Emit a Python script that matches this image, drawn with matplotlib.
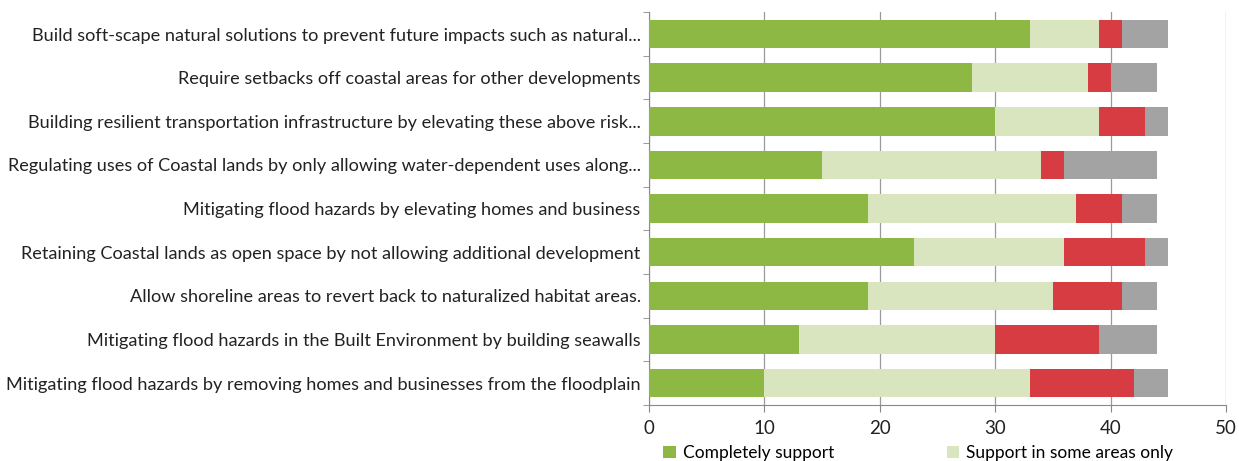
import matplotlib.pyplot as plt
import numpy as np

plt.rcParams['font.family'] = ['Lato', 'DejaVu Sans']

# survey options, listed top to bottom
options = [
    "Build soft-scape natural solutions to prevent future impacts such as natural...",
    "Require setbacks off coastal areas for other developments",
    "Building resilient transportation infrastructure by elevating these above risk...",
    "Regulating uses of Coastal lands by only allowing water-dependent uses along...",
    "Mitigating flood hazards by elevating homes and business",
    "Retaining Coastal lands as open space by not allowing additional development",
    "Allow shoreline areas to revert back to naturalized habitat areas.",
    "Mitigating flood hazards in the Built Environment by building seawalls",
    "Mitigating flood hazards by removing homes and businesses from the floodplain",
]
completely = [33, 28, 30, 15, 19, 23, 19, 13, 10]
some_areas = [6, 10, 9, 19, 18, 13, 16, 17, 23]
red_part = [2, 2, 4, 2, 4, 7, 6, 9, 9]
grey_part = [4, 4, 2, 8, 3, 2, 3, 5, 3]

series = [completely, some_areas, red_part, grey_part]
labels = ["Completely support", "Support in some areas only", None, None]
colors = ["#8db843", "#d8e5bf", "#d63c42", "#a3a3a3"]

fig = plt.figure(figsize=(12.39, 4.61), dpi=100)
ax = fig.add_axes([0.5238, 0.1215, 0.4657, 0.852])

y = np.arange(len(options))[::-1]
left = np.zeros(len(options))
handles = []
for vals, lab, col in zip(series, labels, colors):
    b = ax.barh(y, vals, left=left, height=0.65, color=col, zorder=3)
    if lab:
        handles.append((b, lab))
    left += np.array(vals)

ax.set_xlim(0, 50)
ax.set_ylim(-0.5, len(options) - 0.5)
ax.set_xticks(range(0, 51, 10))
ax.set_yticks(y)
ax.set_yticklabels(options, fontsize=13.1, color="#222222")
ax.set_yticks(np.arange(-0.5, len(options), 1), minor=True)
ax.tick_params(axis='y', which='major', length=0, pad=6)
ax.tick_params(axis='y', which='minor', length=4, color="#888888")
ax.tick_params(axis='x', length=5, color="#888888", labelsize=13.5, pad=6,
               labelcolor="#222222")
ax.grid(axis='x', color="#9a9a9a", linewidth=0.9, zorder=0)
for side in ['top', 'right']:
    ax.spines[side].set_visible(False)
for side in ['left', 'bottom']:
    ax.spines[side].set_color("#888888")

fig.legend([h for h, _ in handles], [l for _, l in handles],
           loc='center', bbox_to_anchor=(0.741, 0.018), ncol=2, frameon=False,
           fontsize=12.5, handlelength=0.7, handleheight=0.7,
           columnspacing=6.5, handletextpad=0.4)

fig.savefig("out.png", dpi=100)
